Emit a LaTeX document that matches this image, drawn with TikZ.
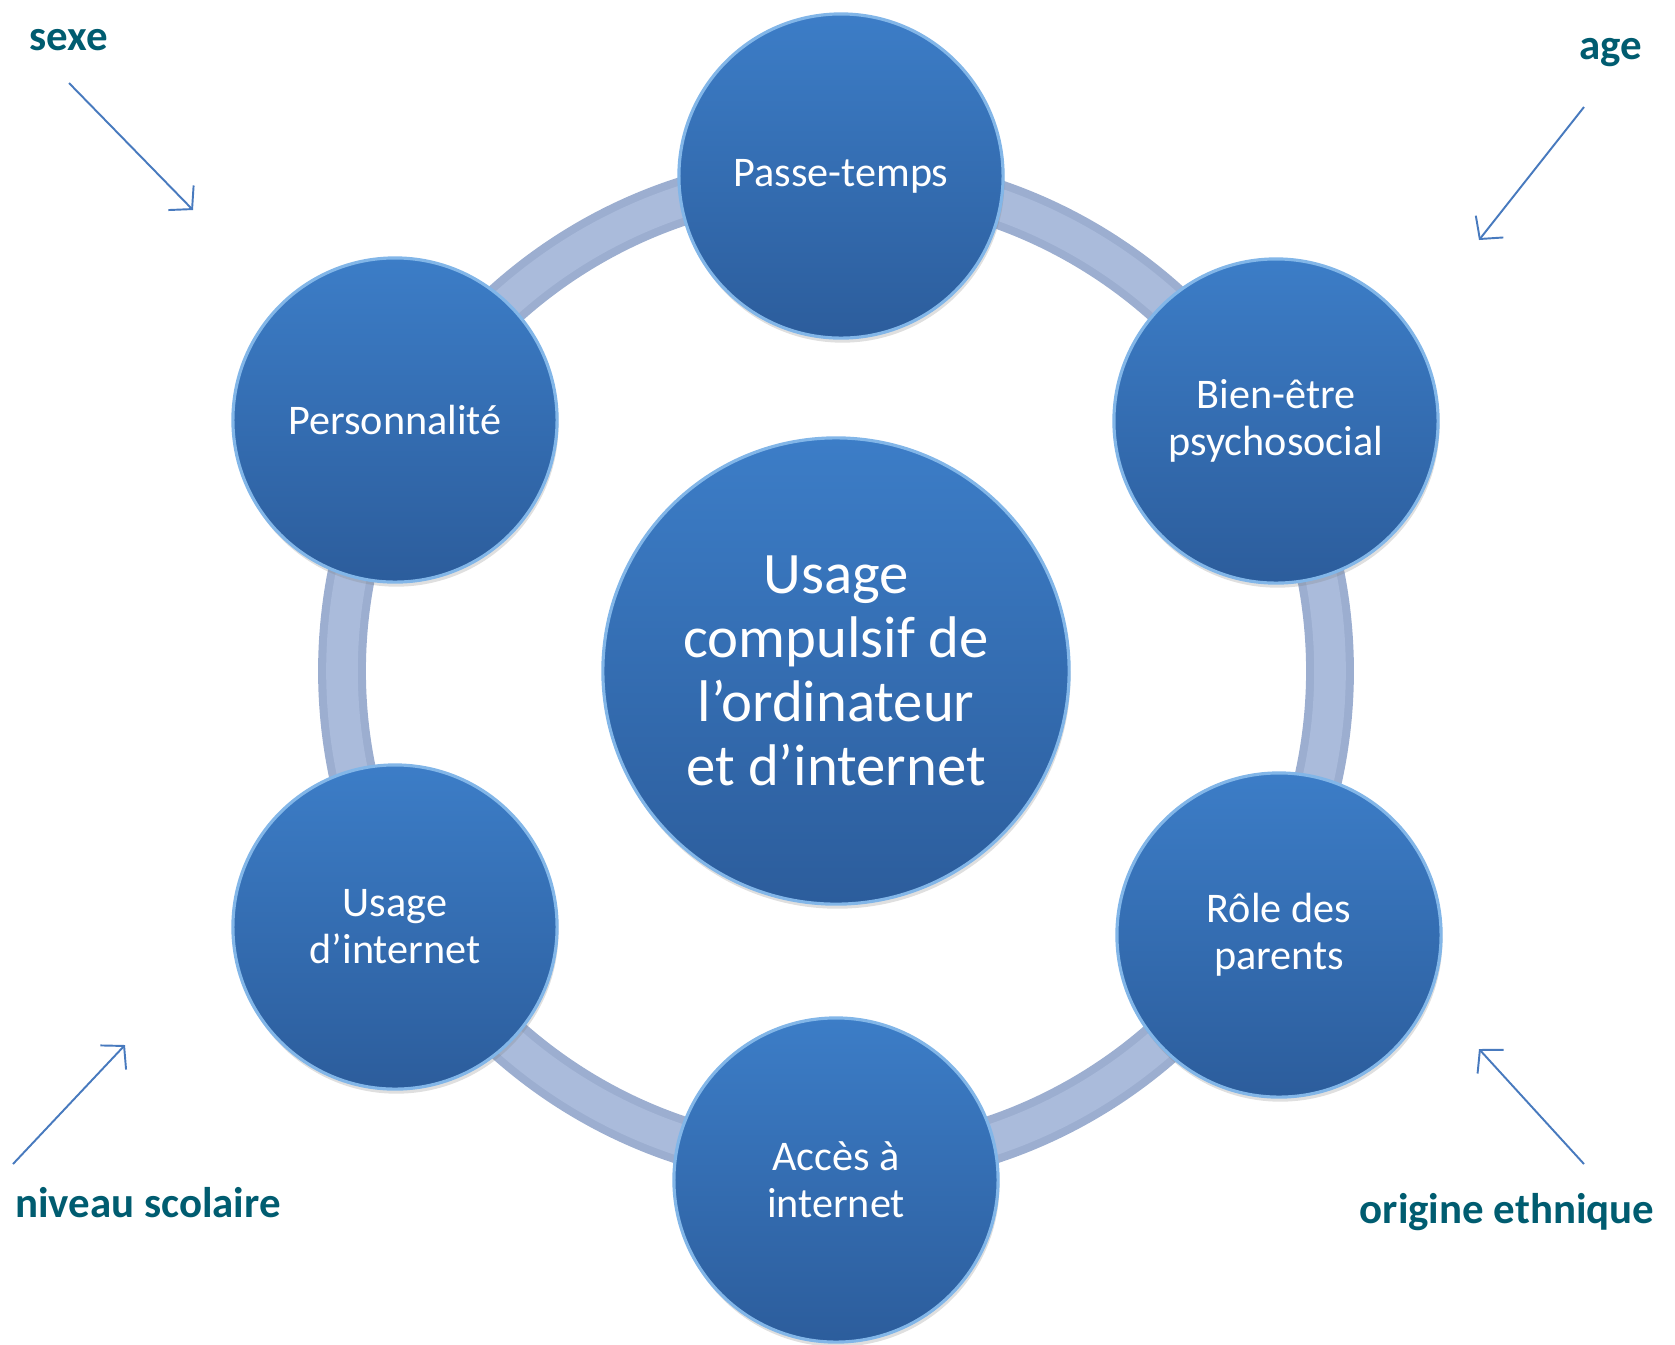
\documentclass[tikz,border=0pt]{standalone}
\usepackage{fontspec}
\setmainfont{Carlito}
\usepackage{tikz}
\usetikzlibrary{shadows}
\usetikzlibrary{arrows.meta}
\usepackage{xcolor}
\definecolor{discblue}{RGB}{60,125,199}
\definecolor{discdark}{RGB}{44,93,156}
\definecolor{rimblue}{RGB}{130,182,232}
\definecolor{ringblue}{RGB}{156,174,208}
\definecolor{ringlight}{RGB}{170,187,219}
\definecolor{tealtext}{RGB}{0,92,112}
\definecolor{arrowblue}{RGB}{72,122,190}

\begin{document}
\begin{tikzpicture}[x=0.01cm, y=-0.01cm,
	disc/.style={circle, minimum size=3.24cm, inner sep=0pt, top color=discblue, bottom color=discdark,
		draw=rimblue, line width=0.9pt, drop shadow={opacity=0.25, shadow xshift=0.4pt, shadow yshift=-1.3pt},
		text=white, align=center, font=\fontsize{12}{13.4}\selectfont},
	factor/.style={text=tealtext, font=\fontsize{12.2}{14}\selectfont\bfseries},
	pointer/.style={arrowblue, line width=0.55pt, -{Straight Barb[length=4.5pt, width=10pt]}}]
		\useasboundingbox (0,0) rectangle (1675,1344);
		\coordinate (mid) at (836,671);
		\draw[ringblue, line width=13.6pt] (mid) circle (494);
		\draw[ringlight, line width=9pt] (mid) circle (494);
		\node[disc] (passe) at (841,176) {Passe-temps};
		\node[disc] (perso) at (395,420) {Personnalité};
		\node[disc] (bien) at (1276,421) {Bien-être\\psychosocial};
		\node[disc] (usage) at (395,927) {Usage\\d’internet};
		\node[disc] (role) at (1279,935) {Rôle des\\parents};
		\node[disc] (acces) at (836,1180) {Accès à\\internet};
		\node[disc, minimum size=4.66cm, font=\fontsize{16.7}{18.2}\selectfont] (centre) at (mid)
			{Usage\\compulsif de\\l’ordinateur\\et d’internet};
		\node[factor] (sexe) at (69,40) {sexe};
		\node[factor] (age) at (1611,53) {age};
		\node[factor] (niveau) at (148,1203) {niveau scolaire};
		\node[factor] (origine) at (1507,1212) {origine ethnique};
		\coordinate (sexeA) at (69,83);
		\coordinate (sexeB) at (193,210);
		\coordinate (ageA) at (1584,107);
		\coordinate (ageB) at (1479,240);
		\coordinate (niveauA) at (13,1164);
		\coordinate (niveauB) at (125,1045);
		\coordinate (origineA) at (1584,1164);
		\coordinate (origineB) at (1479,1049);
		\draw[pointer] (sexeA) -- (sexeB);
		\draw[pointer] (ageA) -- (ageB);
		\draw[pointer] (niveauA) -- (niveauB);
		\draw[pointer] (origineA) -- (origineB);
\end{tikzpicture}
\end{document}
